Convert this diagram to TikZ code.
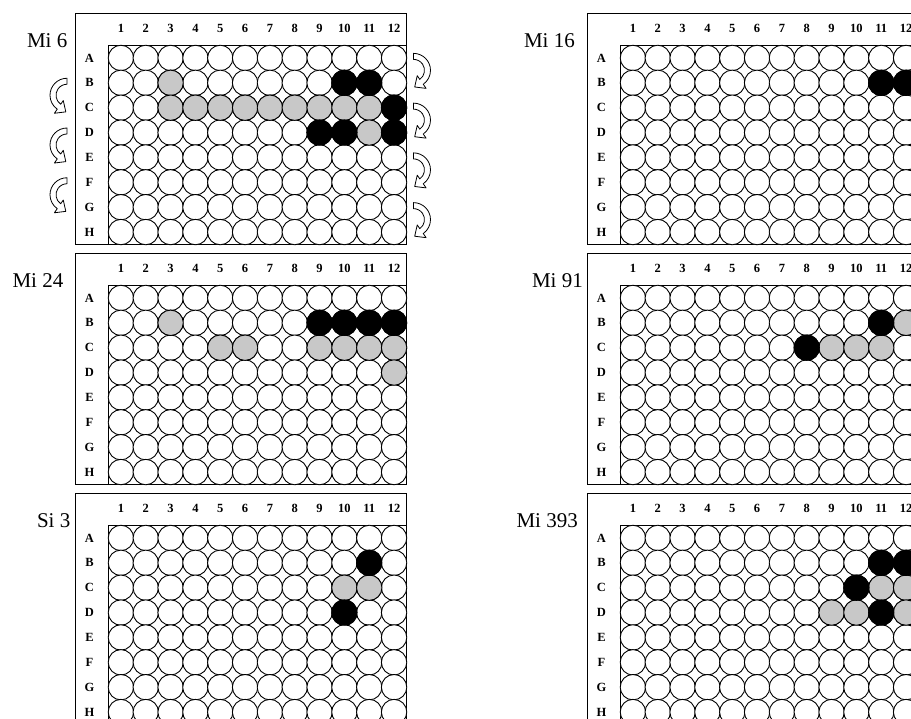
\documentclass[tikz,border=0pt]{standalone}
\usepackage{fontspec}
\setmainfont{Liberation Serif}
\definecolor{wellgray}{HTML}{C8C8C8}

% one 96-well plate: name, x, y, label, label shift, coloured wells
\newcommand{\plate}[6]{%
  \begin{scope}[shift={(#2,#3)}]
    \draw[frame] (0,0) rectangle (331,231);
    \draw[frame] (33,231) |- (331,32);
    \node[platename, anchor=east] (#1-name) at (#5,27.5) {#4};
    \foreach \c in {1,...,12}
      \node[colnum] (#1-col\c) at ({33+24.833*(\c-0.5)},15) {\c};
    \foreach \r [count=\j] in {A,B,C,D,E,F,G,H} {
      \node[rownum] (#1-row\r) at (14,{32+24.875*(\j-0.5)}) {\r};
      \foreach \c in {1,...,12}
        \node[well] (#1-\r\c) at ({33+24.833*(\c-0.5)},{32+24.875*(\j-0.5)}) {};
    }
    \foreach \w/\s in {#6}
      \node[well, \s] at (#1-\w) {};
  \end{scope}
}

\begin{document}
\begin{tikzpicture}[
  x=1pt, y=-1pt,
  frame/.style={line width=1pt},
  well/.style={circle, draw, line width=0.9pt, fill=white,
               minimum size=25.4pt, inner sep=0pt},
  dark/.style={fill=black},
  light/.style={fill=wellgray},
  colnum/.style={font=\fontsize{12.5}{13}\selectfont\bfseries, inner sep=0pt},
  rownum/.style={colnum},
  platename/.style={font=\fontsize{21}{24}\selectfont, inner sep=0pt},
  arrowline/.style={line width=0.8pt, fill=white, line join=round},
  turn/.pic={
    \draw[arrowline] (0,-17) arc[start angle=270, end angle=125, radius=17]
      -- (-12.62,18.02) -- (-1.2,16.6) -- (-3.73,5.32) -- (-6.31,9.01)
      arc[start angle=125, end angle=270, radius=11] -- cycle;
  }
]
\useasboundingbox (0,0) rectangle (911,719);
\clip (0,0) rectangle (911,719);

\plate{mi6}{75.5}{13.5}{Mi 6}{-8}{B3/light, C3/light, C4/light, C5/light,
  C6/light, C7/light, C8/light, C9/light, C10/light, C11/light, D11/light,
  B10/dark, B11/dark, C12/dark, D9/dark, D10/dark, D12/dark}
\plate{mi24}{75.5}{253.5}{Mi 24}{-12}{B3/light, C5/light, C6/light, C9/light,
  C10/light, C11/light, C12/light, D12/light,
  B9/dark, B10/dark, B11/dark, B12/dark}
\plate{si3}{75.5}{493.5}{Si 3}{-5}{C10/light, C11/light, B11/dark, D10/dark}
\plate{mi16}{587.5}{13.5}{Mi 16}{-12.5}{B11/dark, B12/dark}
\plate{mi91}{587.5}{253.5}{Mi 91}{-4.5}{B12/light, C9/light, C10/light,
  C11/light, B11/dark, C8/dark}
\plate{mi393}{587.5}{493.5}{Mi 393}{-9.5}{C11/light, C12/light, D9/light,
  D10/light, D12/light, B11/dark, B12/dark, C10/dark, D11/dark}

% turning arrows beside Mi 6
\foreach \k in {2,4,6}
  \pic at (67,{45.5+24.875*\k}) {turn};
\foreach \k in {1,3,5,7}
  \pic[xscale=-1] at (413.5,{45.5+24.875*\k}) {turn};
\end{tikzpicture}
\end{document}
